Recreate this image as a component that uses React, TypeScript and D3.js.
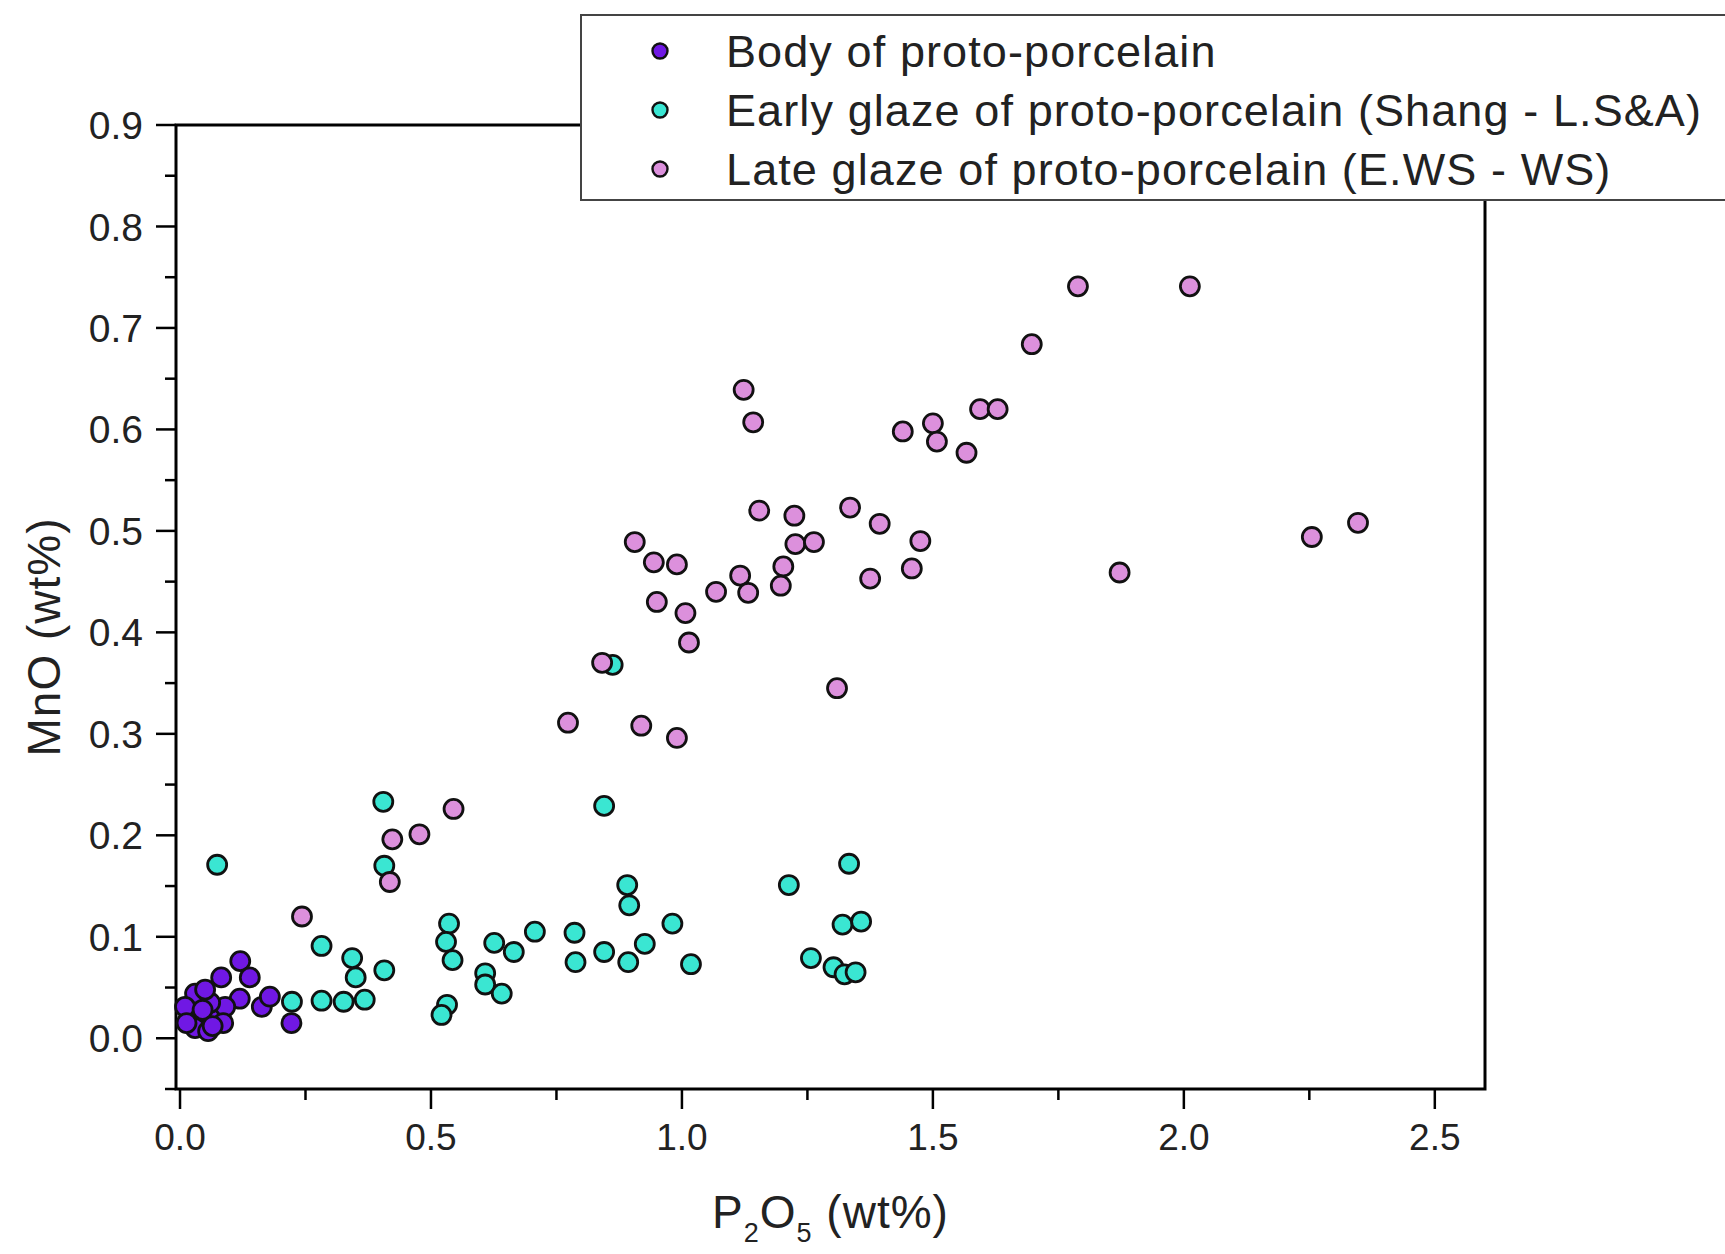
import React from 'react';
import * as d3 from 'd3';

// [P2O5, MnO] in wt%
const bodyPoints: [number, number][] = [
  [0.12, 0.076], [0.139, 0.06], [0.082, 0.06], [0.119, 0.039], [0.163, 0.031],
  [0.179, 0.041], [0.222, 0.015], [0.03, 0.044], [0.03, 0.023], [0.03, 0.01],
  [0.056, 0.007], [0.073, 0.02], [0.09, 0.031], [0.06, 0.035], [0.01, 0.031],
  [0.086, 0.015], [0.05, 0.048], [0.013, 0.015], [0.045, 0.028], [0.065, 0.012],
];

const earlyPoints: [number, number][] = [
  [0.862, 0.368], [0.405, 0.233], [0.845, 0.229], [0.074, 0.171], [0.407, 0.17],
  [1.333, 0.172], [0.891, 0.151], [1.213, 0.151], [0.895, 0.131], [0.536, 0.113],
  [0.981, 0.113], [1.32, 0.112], [1.357, 0.115], [0.707, 0.105], [0.786, 0.104],
  [0.53, 0.095], [0.626, 0.094], [0.282, 0.091], [0.926, 0.093], [0.343, 0.079],
  [0.543, 0.077], [0.665, 0.085], [0.845, 0.085], [0.788, 0.075], [0.893, 0.075],
  [1.018, 0.073], [1.257, 0.079], [1.302, 0.07], [1.324, 0.063], [1.346, 0.065],
  [0.35, 0.06], [0.407, 0.067], [0.608, 0.064], [0.608, 0.053], [0.641, 0.044],
  [0.223, 0.036], [0.282, 0.037], [0.326, 0.036], [0.368, 0.038], [0.532, 0.033],
  [0.521, 0.023],
];

const latePoints: [number, number][] = [
  [1.789, 0.741], [2.012, 0.741], [1.697, 0.684], [1.123, 0.639], [1.142, 0.607],
  [1.594, 0.62], [1.629, 0.62], [1.5, 0.606], [1.508, 0.588], [1.44, 0.598],
  [1.567, 0.577], [1.154, 0.52], [1.224, 0.515], [1.335, 0.523], [1.394, 0.507],
  [2.347, 0.508], [2.255, 0.494], [0.906, 0.489], [1.226, 0.487], [1.263, 0.489],
  [1.475, 0.49], [0.944, 0.469], [0.99, 0.467], [1.202, 0.465], [1.458, 0.463],
  [1.872, 0.459], [1.116, 0.456], [1.375, 0.453], [1.197, 0.446], [1.132, 0.439],
  [1.068, 0.44], [0.95, 0.43], [1.007, 0.419], [1.014, 0.39], [0.841, 0.37],
  [1.309, 0.345], [0.773, 0.311], [0.919, 0.308], [0.99, 0.296], [0.545, 0.226],
  [0.477, 0.201], [0.423, 0.196], [0.418, 0.154], [0.243, 0.12],
];

const seriesNames = [
  'Body of proto-porcelain',
  'Early glaze of proto-porcelain (Shang - L.S&A)',
  'Late glaze of proto-porcelain (E.WS - WS)',
];
const seriesColors = ['#7018e4', '#3ae6d2', '#dc90dc'];

const xMajor = [0, 0.5, 1, 1.5, 2, 2.5];
const xMinor = [0.25, 0.75, 1.25, 1.75, 2.25];
const yMajor = [0, 0.1, 0.2, 0.3, 0.4, 0.5, 0.6, 0.7, 0.8, 0.9];
const yMinor = [-0.05, 0.05, 0.15, 0.25, 0.35, 0.45, 0.55, 0.65, 0.75, 0.85];

const W = 1725;
const H = 1254;
const left = 176, right = 1485, top = 125, bottom = 1089;
const font = 'Arial, "Liberation Sans", sans-serif';

const App: React.FC = () => {
  const x = d3.scaleLinear().domain([-0.008, 2.6]).range([left, right]);
  const y = d3.scaleLinear().domain([-0.05, 0.9]).range([bottom, top]);
  const all = [bodyPoints, earlyPoints, latePoints];

  return (
    <svg width={W} height={H} style={{ position: 'absolute', left: 0, top: 0, background: '#fff' }}>
      <rect x={0} y={0} width={W} height={H} fill="#fff" />

      {/* frame */}
      <rect x={left} y={top} width={right - left} height={bottom - top} fill="none" stroke="#000" strokeWidth={3} />

      {/* y ticks */}
      {yMajor.map(v => (
        <g key={'ym' + v}>
          <line x1={left - 20} x2={left} y1={y(v)} y2={y(v)} stroke="#000" strokeWidth={2.5} />
          <text x={left - 33} y={y(v)} dy="0.36em" textAnchor="end" fontFamily={font} fontSize={39} fill="#222">
            {d3.format('.1f')(v)}
          </text>
        </g>
      ))}
      {yMinor.map(v => (
        <line key={'yn' + v} x1={left - 11} x2={left} y1={y(v)} y2={y(v)} stroke="#000" strokeWidth={2.5} />
      ))}

      {/* x ticks */}
      {xMajor.map(v => (
        <g key={'xm' + v}>
          <line x1={x(v)} x2={x(v)} y1={bottom} y2={bottom + 20} stroke="#000" strokeWidth={2.5} />
          <text x={x(v)} y={1150} textAnchor="middle" fontFamily={font} fontSize={37} fill="#222">
            {d3.format('.1f')(v)}
          </text>
        </g>
      ))}
      {xMinor.map(v => (
        <line key={'xn' + v} x1={x(v)} x2={x(v)} y1={bottom} y2={bottom + 11} stroke="#000" strokeWidth={2.5} />
      ))}

      {/* axis titles */}
      <text
        transform={`translate(60,637) rotate(-90)`}
        textAnchor="middle"
        fontFamily={font}
        fontSize={46}
        letterSpacing={1}
        fill="#222"
      >
        MnO (wt%)
      </text>
      <text x={(left + right) / 2} y={1228} textAnchor="middle" fontFamily={font} fontSize={46} letterSpacing={1} fill="#222">
        P<tspan fontSize={27} dy={14}>2</tspan>
        <tspan dy={-14}>O</tspan>
        <tspan fontSize={27} dy={14}>5</tspan>
        <tspan dy={-14}> (wt%)</tspan>
      </text>

      {/* points */}
      {all.map((pts, si) => (
        <g key={'s' + si}>
          {pts.map((d, i) => (
            <circle
              key={i}
              cx={x(d[0])}
              cy={y(d[1])}
              r={9.5}
              fill={seriesColors[si]}
              stroke="#111"
              strokeWidth={2.8}
            />
          ))}
        </g>
      ))}

      {/* legend */}
      <rect x={581} y={15} width={1200} height={185} fill="#fff" stroke="#444" strokeWidth={2} />
      {seriesNames.map((name, i) => (
        <g key={'lg' + i} transform={`translate(0,${51 + i * 59})`}>
          <circle cx={660} cy={0} r={7.5} fill={seriesColors[i]} stroke="#111" strokeWidth={2.4} />
          <text x={726} y={0} dy="0.36em" fontFamily={font} fontSize={45} letterSpacing={1.1} fill="#222">
            {name}
          </text>
        </g>
      ))}
    </svg>
  );
};

export default App;
